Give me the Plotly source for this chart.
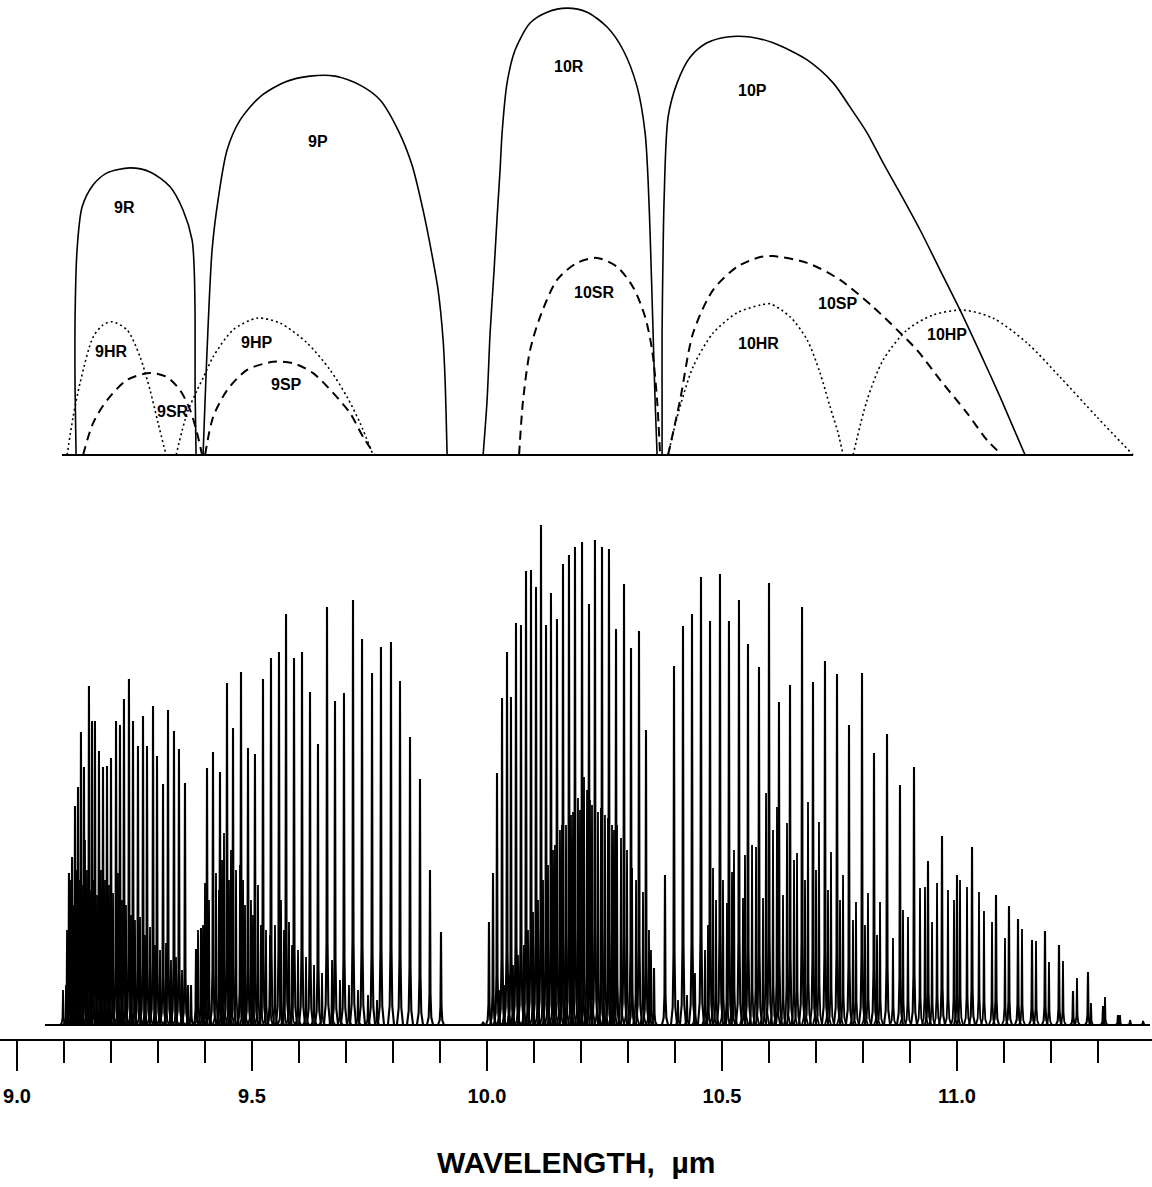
import plotly.graph_objects as go

# ---------------- DATA ----------------
# Wavelengths in micrometres, heights in relative units.

# Upper panel: gain envelopes of each band
env_9R_x = [9.1257, 9.1236, 9.1236, 9.1278, 9.1385, 9.1619, 9.1917, 9.2406, 9.2831, 9.3257, 9.3534, 9.3725, 9.3768, 9.3789, 9.3789, 9.3810]
env_9R_y = [0, 14.4, 30.7, 45.6, 55.1, 60.0, 62.7, 63.8, 62.9, 59.6, 54.4, 47.8, 41.8, 30.7, 14.4, 0]

env_9P_x = [9.3959, 9.4002, 9.4044, 9.4151, 9.4278, 9.4470, 9.4746, 9.5172, 9.5704, 9.6236, 9.6768, 9.7300, 9.7725, 9.8108, 9.8406, 9.8640, 9.8831, 9.8959, 9.9066, 9.9108, 9.9151]
env_9P_y = [0, 12.2, 23.3, 45.6, 56.7, 67.8, 74.4, 79.6, 82.9, 84.2, 84.2, 82.2, 78.9, 72.2, 64.4, 54.4, 44.4, 36.7, 25.6, 16.7, 0]

env_10R_x = [9.9917, 10.0002, 10.0066, 10.0151, 10.0215, 10.0278, 10.0321, 10.0427, 10.0598, 10.0917, 10.1279, 10.1704, 10.2130, 10.2555, 10.2896, 10.3194, 10.3364, 10.3427, 10.3470, 10.3534, 10.3576, 10.3619]
env_10R_y = [0, 12.2, 27.1, 41.1, 52.9, 63.3, 71.6, 82.7, 90.0, 96.0, 98.4, 99.3, 98.4, 95.1, 90.0, 81.8, 71.6, 61.1, 49.3, 27.1, 12.2, 0]

env_10P_x = [10.3725, 10.3725, 10.3725, 10.3747, 10.3768, 10.3853, 10.4045, 10.4321, 10.4683, 10.5109, 10.5598, 10.6087, 10.6811, 10.7364, 10.7726, 10.8087, 10.8428, 10.8789, 10.9215, 10.9640, 11.0066, 11.0491, 11.0917, 11.1193, 11.1449]
env_10P_y = [0, 12.2, 27.1, 45.6, 56.7, 75.1, 82.7, 88.4, 91.6, 92.9, 92.9, 91.6, 87.8, 82.7, 77.3, 71.6, 64.9, 58.2, 50.0, 41.1, 32.2, 22.7, 12.9, 6.2, 0]

env_9HR_x = [9.1066, 9.1193, 9.1342, 9.1619, 9.1831, 9.2023, 9.2342, 9.2619, 9.2831, 9.3002, 9.3172]
env_9HR_y = [0, 8.4, 16.0, 26.2, 28.9, 29.6, 27.8, 21.8, 14.4, 7.1, 0]

env_9SR_x = [9.1406, 9.1619, 9.1917, 9.2342, 9.2831, 9.3193, 9.3470, 9.3683, 9.3831, 9.3938]
env_9SR_y = [0, 7.1, 12.2, 16.7, 18.2, 17.3, 14.4, 10.0, 4.9, 0]

env_9HP_x = [9.3385, 9.3619, 9.3832, 9.3959, 9.4172, 9.4598, 9.5108, 9.5598, 9.6172, 9.6661, 9.7023, 9.7300, 9.7576]
env_9HP_y = [0, 9.3, 14.4, 17.1, 21.8, 27.8, 30.4, 29.3, 24.9, 18.9, 12.9, 7.1, 0]

env_9SP_x = [9.4002, 9.4172, 9.4470, 9.4895, 9.5449, 9.5874, 9.6300, 9.6725, 9.7087, 9.7364, 9.7619]
env_9SP_y = [0, 8.4, 14.4, 18.9, 20.7, 20.4, 18.2, 13.8, 9.3, 4.0, 0]

env_10SR_x = [10.0683, 10.0768, 10.0917, 10.1130, 10.1491, 10.1917, 10.2343, 10.2768, 10.3108, 10.3364, 10.3513, 10.3619, 10.3683]
env_10SR_y = [0, 12.2, 23.3, 30.7, 38.9, 42.7, 43.8, 41.8, 37.3, 30.7, 23.3, 12.2, 0]

env_10SP_x = [10.3853, 10.4108, 10.4385, 10.4811, 10.5321, 10.5811, 10.6087, 10.6811, 10.7513, 10.8215, 10.8726, 10.9151, 10.9640, 11.0215, 11.0640, 11.0960]
env_10SP_y = [0, 12.2, 27.1, 36.7, 41.8, 44.0, 44.2, 42.7, 38.9, 32.9, 27.8, 23.3, 16.7, 9.3, 3.3, 0]

env_10HR_x = [10.3853, 10.4045, 10.4385, 10.4811, 10.5321, 10.5811, 10.6023, 10.6449, 10.6811, 10.7087, 10.7300, 10.7470, 10.7577]
env_10HR_y = [0, 8.4, 19.6, 27.1, 31.6, 33.3, 33.6, 30.7, 25.6, 18.2, 10.7, 4.9, 0]

env_10HP_x = [10.7789, 10.8087, 10.8428, 10.8938, 10.9491, 11.0130, 11.0768, 11.1491, 11.2194, 11.2981, 11.3747]
env_10HP_y = [0, 12.2, 21.1, 27.8, 31.1, 32.2, 30.4, 24.9, 17.3, 8.4, 0]

upper_base_x = [9.0958, 11.3745]

# band labels: (text, wavelength, height)
band_labels = [
    ("9R", 9.2297, 55.1), ("9P", 9.6404, 69.6), ("10R", 10.1744, 86.4), ("10P", 10.5639, 81.1),
    ("9HR", 9.2000, 22.9), ("9SR", 9.3319, 9.6), ("9HP", 9.5106, 24.9), ("9SP", 9.5724, 15.6),
    ("10SR", 10.2276, 36.2), ("10HR", 10.5766, 24.7), ("10SP", 10.7447, 33.6), ("10HP", 10.9787, 26.7),
]

# Lower panel: measured laser lines (regular bands)
r9_x = [9.1106, 9.1171, 9.1234, 9.1298, 9.1361, 9.1425, 9.1531, 9.1596, 9.1659, 9.1744, 9.1830, 9.1915, 9.2000, 9.2107,
        9.2191, 9.2276, 9.2382, 9.2468, 9.2574, 9.2681, 9.2766, 9.2894, 9.2979, 9.3107, 9.3213, 9.3340, 9.3446, 9.3574]
r9_h = [30.4, 33.6, 43.8, 47.6, 58.6, 51.6, 67.8, 60.8, 60.8, 54.8, 51.6, 51.8, 53.4, 60.8,
        60.0, 65.2, 69.2, 60.8, 55.8, 61.8, 55.8, 63.8, 53.8, 48.2, 63.0, 58.8, 55.2, 48.4]

p9_x = [9.3702, 9.3809, 9.3915, 9.4043, 9.4170, 9.4319, 9.4468, 9.4596, 9.4766, 9.4915, 9.5063, 9.5234, 9.5404, 9.5574,
        9.5724, 9.5894, 9.6064, 9.6234, 9.6404, 9.6596, 9.6766, 9.6957, 9.7149, 9.7341, 9.7554, 9.7744, 9.7957, 9.8149,
        9.8362, 9.8574, 9.8787, 9.9021]
p9_h = [8.0, 15.2, 19.4, 51.4, 54.6, 50.6, 68.4, 59.4, 70.6, 55.4, 54.2, 69.2, 73.4, 74.6,
        82.2, 73.4, 74.6, 66.6, 56.2, 83.6, 64.8, 66.4, 85.0, 77.2, 70.4, 75.6, 76.6, 68.8,
        57.6, 49.2, 31.0, 18.6]

r10_x = [9.9915, 10.0042, 10.0128, 10.0213, 10.0320, 10.0426, 10.0510, 10.0617, 10.0723, 10.0830, 10.0936, 10.1043,
         10.1149, 10.1256, 10.1361, 10.1489, 10.1617, 10.1744, 10.1872, 10.2022, 10.2170, 10.2297, 10.2447, 10.2595,
         10.2745, 10.2915, 10.3064, 10.3234, 10.3383, 10.3553]
r10_h = [0.6, 20.6, 30.4, 50.4, 65.4, 74.6, 65.6, 80.4, 80.0, 90.8, 91.0, 87.6,
         100.0, 80.0, 86.4, 81.2, 92.2, 94.0, 95.6, 96.6, 84.2, 97.0, 95.6, 95.2,
         79.2, 88.2, 75.4, 78.8, 59.0, 11.4]

p10_x = [10.3787, 10.3979, 10.4170, 10.4362, 10.4553, 10.4745, 10.4957, 10.5148, 10.5361, 10.5553, 10.5787, 10.6000,
         10.6212, 10.6447, 10.6703, 10.6936, 10.7191, 10.7447, 10.7702, 10.7979, 10.8234, 10.8511, 10.8787, 10.9085,
         10.9383, 10.9681, 11.0000, 11.0320, 11.0830, 11.1106, 11.1298, 11.1596, 11.1872, 11.2170, 11.2468, 11.2787,
         11.3107, 11.3425]
p10_h = [30.0, 71.8, 79.8, 82.2, 89.6, 80.8, 90.2, 80.8, 85.0, 76.2, 71.6, 88.4,
         64.6, 68.0, 83.6, 68.6, 72.8, 70.2, 60.0, 70.4, 54.4, 58.2, 48.0, 51.6,
         32.8, 37.8, 30.0, 35.6, 26.0, 23.8, 21.2, 17.0, 18.8, 16.0, 6.8, 10.6,
         3.8, 2.0]

# Lower panel: weaker hot-band / sequence-band lines
w9r_x = [9.0979, 9.1043, 9.1064, 9.1128, 9.1192, 9.1256, 9.1319, 9.1383, 9.1446, 9.1489, 9.1553, 9.1617, 9.1702, 9.1787,
         9.1872, 9.1957, 9.2043, 9.2149, 9.2234, 9.2319, 9.2425, 9.2510, 9.2617, 9.2723, 9.2830, 9.2936, 9.3043, 9.3171,
         9.3276, 9.3383, 9.3511, 9.3638]
w9r_h = [7.0, 8.0, 19.0, 29.0, 24.0, 31.0, 29.0, 28.0, 37.0, 31.0, 27.0, 29.0, 26.0, 31.0,
         29.0, 28.0, 26.4, 30.4, 25.0, 24.0, 22.0, 21.0, 21.6, 18.0, 19.6, 16.0, 15.0, 16.4,
         13.0, 13.6, 11.0, 8.0]

w9p_x = [9.3851, 9.3958, 9.4000, 9.4085, 9.4234, 9.4297, 9.4362, 9.4404, 9.4510, 9.4553, 9.4660, 9.4745, 9.4809, 9.4851,
         9.4978, 9.5021, 9.5127, 9.5191, 9.5298, 9.5383, 9.5489, 9.5617, 9.5681, 9.5787, 9.5852, 9.5979, 9.6149, 9.6319,
         9.6490, 9.6703, 9.6872, 9.7063, 9.7255, 9.7468, 9.7660]
w9p_h = [19.0, 20.0, 28.4, 25.0, 30.4, 27.0, 33.0, 38.4, 29.0, 35.0, 31.0, 32.0, 29.0, 24.0,
         25.0, 22.0, 28.0, 20.0, 19.0, 18.0, 20.0, 25.0, 19.0, 20.6, 16.0, 15.0, 13.6, 12.0,
         10.4, 13.0, 9.0, 8.0, 7.0, 6.0, 5.0]

w10r_x = [10.0255, 10.0362, 10.0468, 10.0553, 10.0659, 10.0787, 10.0872, 10.0979, 10.1085, 10.1192, 10.1298, 10.1404,
          10.1553, 10.1596, 10.1681, 10.1787, 10.1936, 10.1979, 10.2064, 10.2128, 10.2234, 10.2361, 10.2510, 10.2660,
          10.2766, 10.2851, 10.2979, 10.3086, 10.3171, 10.3319, 10.3446, 10.3489,
          10.1446, 10.1830, 10.2191, 10.2425, 10.2574, 10.2702]
w10r_h = [7.0, 8.0, 10.0, 12.0, 14.0, 16.0, 19.0, 22.6, 25.0, 29.0, 32.0, 35.0,
          39.0, 40.0, 40.0, 42.0, 45.4, 43.0, 49.6, 47.0, 44.0, 42.6, 42.0, 40.0,
          40.0, 37.4, 35.0, 31.4, 29.0, 26.6, 19.0, 15.0,
          36.0, 42.6, 45.0, 43.4, 41.4, 39.0]

w10p_x = [10.4064, 10.4255, 10.4425, 10.4638, 10.4702, 10.4809, 10.4873, 10.5021, 10.5106, 10.5213, 10.5255, 10.5447,
          10.5489, 10.5639, 10.5724, 10.5873, 10.5937, 10.6085, 10.6170, 10.6298, 10.6383, 10.6532, 10.6596, 10.6766,
          10.6830, 10.7000, 10.7063, 10.7255, 10.7319, 10.7511, 10.7575, 10.7787, 10.7851, 10.8042, 10.8106, 10.8298,
          10.8362, 10.8638, 10.8851, 10.8957, 10.9213, 10.9319, 10.9469, 10.9575, 10.9808, 10.9936, 11.0064, 11.0213,
          11.0468, 11.0574, 11.0745, 11.1021, 11.1383, 11.1681, 11.1957, 11.2255, 11.2553, 11.2851, 11.3149, 11.3468,
          11.3681, 11.3958]
w10p_h = [5.0, 6.0, 10.4, 15.0, 20.0, 31.4, 25.0, 29.0, 24.4, 30.6, 35.0, 25.4,
          34.0, 36.0, 35.6, 25.4, 46.4, 39.0, 43.6, 26.0, 40.4, 33.0, 34.4, 29.0,
          44.6, 31.0, 40.6, 27.0, 34.6, 25.0, 30.0, 21.0, 24.6, 20.0, 26.4, 18.0,
          24.6, 17.4, 23.0, 21.6, 27.4, 27.6, 20.6, 28.4, 27.0, 25.0, 29.0, 27.6,
          26.6, 22.8, 20.6, 17.4, 19.2, 16.8, 12.6, 12.8, 9.4, 4.4, 5.6, 2.0,
          1.0, 0.8]

spectrum_base_x = [9.0595, 11.4106]

# Axis ticks
major_ticks = [9.0, 9.5, 10.0, 10.5, 11.0]
major_labels = ["9.0", "9.5", "10.0", "10.5", "11.0"]
minor_ticks = [9.0, 9.1, 9.2, 9.3, 9.4, 9.5, 9.6, 9.7, 9.8, 9.9, 10.0, 10.1, 10.2, 10.3, 10.4, 10.5,
               10.6, 10.7, 10.8, 10.9, 11.0, 11.1, 11.2, 11.3]

# ---------------- FIGURE ----------------
fig = go.Figure()

# upper panel baseline
fig.add_trace(go.Scatter(x=upper_base_x, y=[0, 0], yaxis="y2", mode="lines",
                         line=dict(color="black", width=2), hoverinfo="skip"))

solid = dict(color="black", width=1.6, shape="spline", smoothing=0.8)
dashed = dict(color="black", width=2, dash="9px,6px", shape="spline", smoothing=0.8)
dotted = dict(color="black", width=1.6, dash="2px,3px", shape="spline", smoothing=0.8)

envelopes = [
    (env_9R_x, env_9R_y, solid), (env_9P_x, env_9P_y, solid),
    (env_10R_x, env_10R_y, solid), (env_10P_x, env_10P_y, solid),
    (env_9HR_x, env_9HR_y, dotted), (env_9HP_x, env_9HP_y, dotted),
    (env_10HR_x, env_10HR_y, dotted), (env_10HP_x, env_10HP_y, dotted),
    (env_9SR_x, env_9SR_y, dashed), (env_9SP_x, env_9SP_y, dashed),
    (env_10SR_x, env_10SR_y, dashed), (env_10SP_x, env_10SP_y, dashed),
]
for ex, ey, st in envelopes:
    fig.add_trace(go.Scatter(x=ex, y=ey, yaxis="y2", mode="lines", line=st, hoverinfo="skip"))

for txt, lx, ly in band_labels:
    fig.add_annotation(x=lx, y=ly, xref="x", yref="y2", text=txt, showarrow=False,
                       font=dict(family="Liberation Sans, Arial", size=16, color="black", weight="bold"))

# lower panel: spectrum
fig.add_trace(go.Scatter(x=spectrum_base_x, y=[0, 0], yaxis="y", mode="lines",
                         line=dict(color="black", width=2.2), hoverinfo="skip"))

# narrow line profile (style only): offsets in µm and fraction of peak height
prof_dx = [-0.0065, -0.0028, -0.0011, 0.0, 0.0011, 0.0028, 0.0065]
prof_fr = [0.0, 0.05, 0.2, 1.0, 0.2, 0.05, 0.0]


def line_profiles(xs, hs):
    X, Y = [], []
    for x, h in zip(xs, hs):
        for dx, fr in zip(prof_dx, prof_fr):
            X.append(x + dx)
            Y.append(h * fr)
        X.append(None)
        Y.append(None)
    return X, Y


for xs, hs, w in [(w9r_x, w9r_h, 1.8), (w9p_x, w9p_h, 1.8), (w10r_x, w10r_h, 1.8), (w10p_x, w10p_h, 1.8),
                  (r9_x, r9_h, 2.1), (p9_x, p9_h, 2.1), (r10_x, r10_h, 2.1), (p10_x, p10_h, 2.1)]:
    sx, sy = line_profiles(xs, hs)
    fig.add_trace(go.Scatter(x=sx, y=sy, yaxis="y", mode="lines",
                             line=dict(color="black", width=w), hoverinfo="skip"))

fig.add_annotation(xref="paper", yref="paper", x=0.5, y=-0.1193, text="WAVELENGTH,  µm",
                   showarrow=False, yanchor="middle",
                   font=dict(family="Liberation Sans, Arial", size=30, color="black", weight="bold"))

fig.update_layout(
    width=1152, height=1187,
    margin=dict(l=0, r=0, t=0, b=148),
    paper_bgcolor="white", plot_bgcolor="white",
    showlegend=False,
    xaxis=dict(range=[8.96383, 11.41489], anchor="y", showline=True, linecolor="black", linewidth=2,
               showgrid=False, zeroline=False,
               tickmode="array", tickvals=major_ticks, ticktext=major_labels,
               ticks="outside", ticklen=30, tickwidth=2, tickcolor="black",
               ticklabelstandoff=8,
               tickfont=dict(family="Liberation Sans, Arial", size=20, color="black", weight="bold"),
               minor=dict(tickmode="array", tickvals=minor_ticks, ticks="outside",
                          ticklen=22, tickwidth=2, tickcolor="black", showgrid=False)),
    yaxis=dict(domain=[0, 0.5], range=[-2.8, 101.1], visible=False, fixedrange=True),
    yaxis2=dict(domain=[0.55, 1.0], range=[-2.789, 101.11], visible=False, anchor="x", fixedrange=True),
)

fig.write_html("out.html", config={"displayModeBar": False},
               post_script="document.body.style.margin='0';document.body.style.padding='0';")
